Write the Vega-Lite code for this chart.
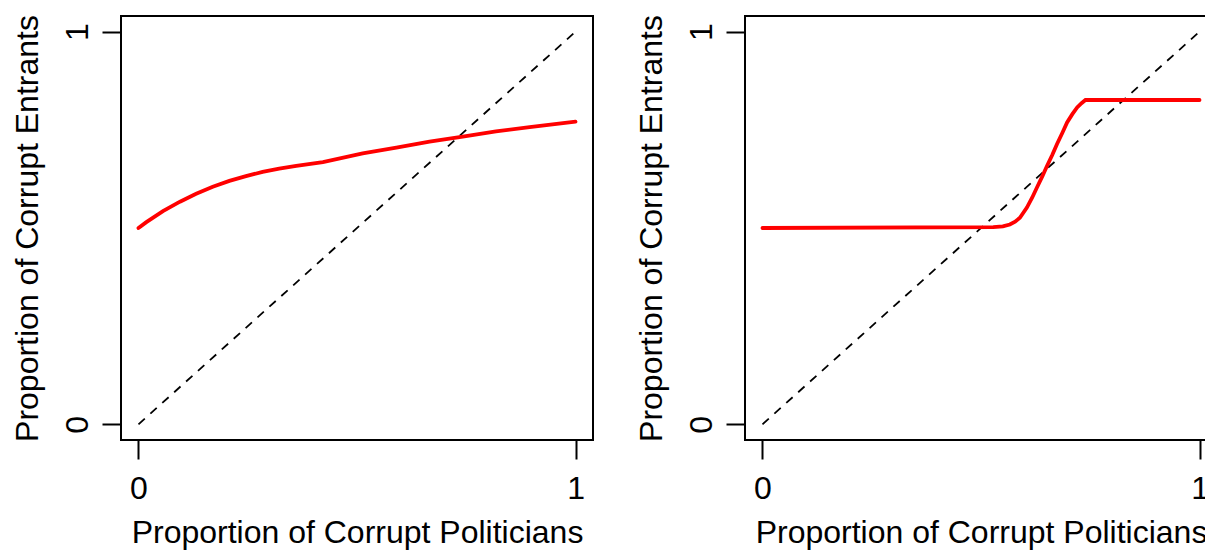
{
  "$schema": "https://vega.github.io/schema/vega-lite/v6.json",
  "autosize": {"type": "none"},
  "padding": {"left": 121, "top": 16, "right": 1084, "bottom": 537},
  "background": "white",
  "bounds": "flush",
  "spacing": 152,
  "config": {
    "font": "Liberation Sans",
    "view": {"stroke": "black", "strokeWidth": 2},
    "axis": {
      "grid": false,
      "domain": false,
      "tickSize": 19,
      "tickWidth": 2,
      "tickColor": "black",
      "labelFont": "Liberation Sans",
      "labelFontSize": 32,
      "labelColor": "black",
      "titleFont": "Liberation Sans",
      "titleFontSize": 32,
      "titleFontWeight": "normal",
      "titleColor": "black",
      "labelBaseline": "alphabetic",
      "titleBaseline": "alphabetic",
      "format": "d"
    },
    "axisX": {"labelPadding": 39, "titlePadding": 38, "titleX": 236},
    "axisY": {"labelAngle": -90, "labelAlign": "center", "labelPadding": 15, "titlePadding": 24}
  },
  "datasets": {
    "left": [
      {"x": 0.0, "y": 0.500},
      {"x": 0.018, "y": 0.515},
      {"x": 0.056, "y": 0.543},
      {"x": 0.095, "y": 0.567},
      {"x": 0.132, "y": 0.587},
      {"x": 0.170, "y": 0.605},
      {"x": 0.208, "y": 0.620},
      {"x": 0.246, "y": 0.632},
      {"x": 0.284, "y": 0.643},
      {"x": 0.322, "y": 0.651},
      {"x": 0.361, "y": 0.658},
      {"x": 0.422, "y": 0.668},
      {"x": 0.513, "y": 0.690},
      {"x": 0.590, "y": 0.705},
      {"x": 0.666, "y": 0.720},
      {"x": 0.742, "y": 0.733},
      {"x": 0.818, "y": 0.746},
      {"x": 0.895, "y": 0.757},
      {"x": 1.0, "y": 0.771}
    ],
    "right": [
      {"x": 0.0, "y": 0.500},
      {"x": 0.528, "y": 0.502},
      {"x": 0.550, "y": 0.504},
      {"x": 0.566, "y": 0.509},
      {"x": 0.578, "y": 0.516},
      {"x": 0.589, "y": 0.526},
      {"x": 0.605, "y": 0.552},
      {"x": 0.617, "y": 0.577},
      {"x": 0.628, "y": 0.603},
      {"x": 0.640, "y": 0.631},
      {"x": 0.651, "y": 0.658},
      {"x": 0.663, "y": 0.686},
      {"x": 0.674, "y": 0.714},
      {"x": 0.686, "y": 0.742},
      {"x": 0.697, "y": 0.769},
      {"x": 0.709, "y": 0.790},
      {"x": 0.720, "y": 0.807},
      {"x": 0.730, "y": 0.818},
      {"x": 0.739, "y": 0.826},
      {"x": 1.0, "y": 0.826}
    ],
    "diag": [
      {"x": 0, "y": 0},
      {"x": 1, "y": 1}
    ]
  },
  "hconcat": [
    {
      "width": 472,
      "height": 424,
      "encoding": {
        "x": {"field": "x", "type": "quantitative", "scale": {"domain": [-0.04, 1.04], "nice": false, "zero": false}, "axis": {"values": [0, 1]}, "title": "Proportion of Corrupt Politicians"},
        "y": {"field": "y", "type": "quantitative", "scale": {"domain": [-0.04, 1.04], "nice": false, "zero": false}, "axis": {"values": [0, 1]}, "title": "Proportion of Corrupt Entrants"}
      },
      "layer": [
        {"data": {"name": "diag"}, "mark": {"type": "line", "color": "black", "strokeWidth": 1.8, "strokeDash": [8.5, 7.5]}},
        {"data": {"name": "left"}, "mark": {"type": "line", "color": "#ff0000", "strokeWidth": 3.8, "strokeCap": "round"}}
      ]
    },
    {
      "width": 472,
      "height": 424,
      "encoding": {
        "x": {"field": "x", "type": "quantitative", "scale": {"domain": [-0.04, 1.04], "nice": false, "zero": false}, "axis": {"values": [0, 1]}, "title": "Proportion of Corrupt Politicians"},
        "y": {"field": "y", "type": "quantitative", "scale": {"domain": [-0.04, 1.04], "nice": false, "zero": false}, "axis": {"values": [0, 1]}, "title": "Proportion of Corrupt Entrants"}
      },
      "layer": [
        {"data": {"name": "diag"}, "mark": {"type": "line", "color": "black", "strokeWidth": 1.8, "strokeDash": [8.5, 7.5]}},
        {"data": {"name": "right"}, "mark": {"type": "line", "color": "#ff0000", "strokeWidth": 3.8, "strokeCap": "round"}}
      ]
    }
  ]
}
